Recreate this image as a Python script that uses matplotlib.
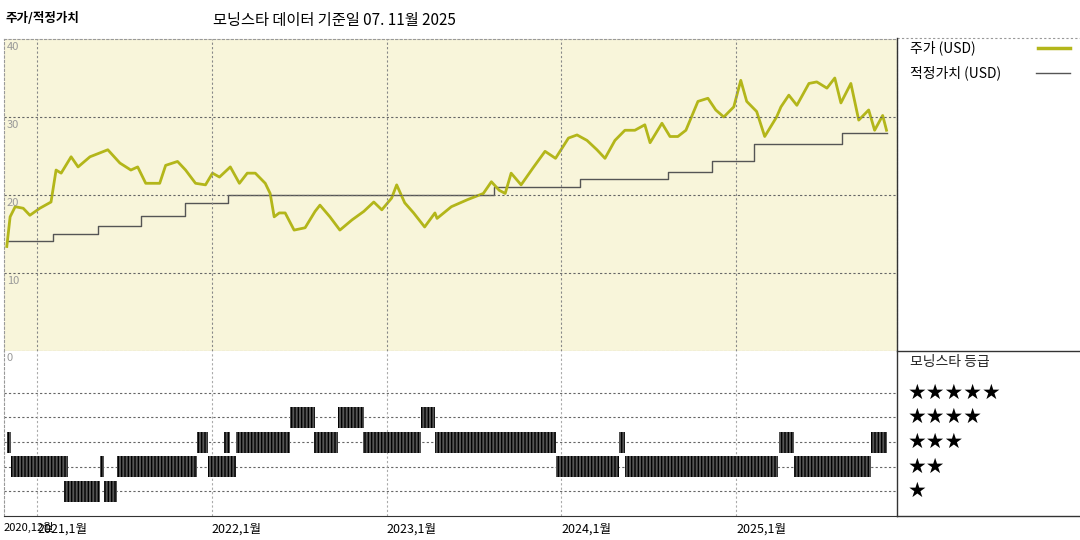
import numpy as np
import matplotlib
matplotlib.use('Agg')
import matplotlib.pyplot as plt
from matplotlib.lines import Line2D

plt.rcParams['font.family'] = ['Noto Sans CJK KR', 'DejaVu Sans']

# price (USD), x = fractional year
price_t = [2020.826, 2020.845, 2020.874, 2020.920, 2020.958, 2021.015, 2021.079, 2021.108, 2021.137,
           2021.194, 2021.234, 2021.302, 2021.359, 2021.404, 2021.473, 2021.536, 2021.575, 2021.621,
           2021.701, 2021.735, 2021.803, 2021.849, 2021.906, 2021.963, 2022.003, 2022.043, 2022.105,
           2022.157, 2022.202, 2022.248, 2022.305, 2022.333, 2022.356, 2022.385, 2022.419, 2022.470,
           2022.533, 2022.590, 2022.618, 2022.675, 2022.732, 2022.801, 2022.869, 2022.926, 2022.972,
           2023.028, 2023.057, 2023.103, 2023.154, 2023.217, 2023.276, 2023.288, 2023.370, 2023.462,
           2023.553, 2023.599, 2023.644, 2023.678, 2023.712, 2023.769, 2023.838, 2023.906, 2023.966,
           2024.040, 2024.089, 2024.146, 2024.203, 2024.249, 2024.306, 2024.363, 2024.420, 2024.477,
           2024.507, 2024.575, 2024.621, 2024.666, 2024.712, 2024.781, 2024.838, 2024.883, 2024.929,
           2024.986, 2025.026, 2025.060, 2025.117, 2025.163, 2025.231, 2025.256, 2025.301, 2025.347,
           2025.416, 2025.461, 2025.519, 2025.564, 2025.599, 2025.656, 2025.701, 2025.758, 2025.792,
           2025.838, 2025.860]
price_v = [13.4, 17.2, 18.5, 18.3, 17.4, 18.3, 19.1, 23.2, 22.8, 24.9, 23.6, 24.9, 25.4, 25.8, 24.1,
           23.2, 23.6, 21.5, 21.5, 23.8, 24.3, 23.2, 21.5, 21.3, 22.8, 22.3, 23.6, 21.5, 22.8, 22.8,
           21.5, 20.2, 17.2, 17.7, 17.7, 15.5, 15.8, 17.9, 18.7, 17.2, 15.5, 16.8, 17.9, 19.1, 18.1,
           19.6, 21.3, 19.0, 17.7, 15.9, 17.7, 17.0, 18.5, 19.4, 20.2, 21.7, 20.6, 20.2, 22.8, 21.3,
           23.5, 25.6, 24.7, 27.3, 27.7, 27.0, 25.8, 24.7, 27.0, 28.3, 28.3, 29.0, 26.7, 29.2, 27.5,
           27.5, 28.3, 32.0, 32.4, 30.9, 30.0, 31.3, 34.7, 32.0, 30.7, 27.5, 30.0, 31.3, 32.8, 31.5,
           34.3, 34.5, 33.7, 35.0, 31.8, 34.3, 29.6, 30.9, 28.3, 30.2, 28.3]

# fair value steps (value holds from each date on)
fair_t = [2020.826, 2021.091, 2021.347, 2021.593, 2021.843, 2022.094, 2023.615, 2024.105,
          2024.612, 2024.863, 2025.102, 2025.604, 2025.860]
fair_v = [14.1, 15.0, 16.0, 17.3, 19.0, 20.0, 21.0, 22.0, 22.9, 24.4, 26.5, 28.0, 28.0]

# Morningstar rating periods: (stars, start, end)
rating_spans = [
    (3, 2020.826, 2020.850), (3, 2021.917, 2021.980), (3, 2022.071, 2022.105),
    (3, 2022.140, 2022.447), (3, 2022.584, 2022.721), (3, 2022.863, 2023.194),
    (3, 2023.279, 2023.969), (3, 2024.331, 2024.364), (3, 2025.243, 2025.329),
    (3, 2025.769, 2025.860),
    (4, 2022.447, 2022.590), (4, 2022.721, 2022.869), (4, 2023.194, 2023.274),
    (2, 2020.850, 2021.177), (2, 2021.359, 2021.382), (2, 2021.456, 2021.912),
    (2, 2021.980, 2022.140), (2, 2023.971, 2024.331), (2, 2024.364, 2025.237),
    (2, 2025.329, 2025.769),
    (1, 2021.154, 2021.359), (1, 2021.382, 2021.456),
]

year_ticks = [2021, 2022, 2023, 2024, 2025]
year_labels = ['2021,1월', '2022,1월', '2023,1월', '2024,1월', '2025,1월']
first_label = '2020,12월'

xmin, xmax = 2020.81, 2025.92
olive = '#b3b61a'

fig = plt.figure(figsize=(10.8, 5.4), dpi=100)
L, R = 4 / 1080, 897 / 1080
ax = fig.add_axes([L, 1 - 351 / 540, R - L, 312 / 540])
axr = fig.add_axes([L, 1 - 516 / 540, R - L, 165 / 540])

# top panel
ax.set_facecolor('#f8f5da')
ax.step(fair_t, fair_v, where='post', color='#555555', lw=1)
ax.plot(price_t, price_v, color=olive, lw=2)
ax.set_xlim(xmin, xmax)
ax.set_ylim(0, 40)
for v in [10, 20, 30]:
    ax.axhline(v, color='#666666', lw=0.8, ls=(0, (2, 2)))
for t in year_ticks:
    ax.axvline(t, color='#888888', lw=0.8, ls=(0, (2, 2)))
for v in [10, 20, 30, 40]:
    ax.text(xmin + 0.015, v - 0.4, str(v), color='#999999', fontsize=8, va='top', ha='left')
ax.set_xticks([])
ax.set_yticks([])
for s in ax.spines.values():
    s.set_color('#999999')
    s.set_linestyle((0, (2, 2)))
    s.set_linewidth(0.8)

# rating panel
for stars, t0, t1 in rating_spans:
    axr.barh(stars, t1 - t0, left=t0, height=0.85, color='#555555', hatch='|||||',
             edgecolor='black', linewidth=0)
axr.set_xlim(xmin, xmax)
axr.set_ylim(0, 6.7)
for v in range(1, 6):
    axr.axhline(v, color='#666666', lw=0.8, ls=(0, (2, 2)), zorder=0)
for t in year_ticks:
    axr.axvline(t, color='#aaaaaa', lw=0.8, ls=(0, (2, 2)), zorder=0)
axr.text(xmin + 0.012, 6.6, '0', color='#999999', fontsize=8, va='top', ha='left')
axr.set_xticks([])
axr.set_yticks([])
for k in ['top', 'right']:
    axr.spines[k].set_visible(False)
axr.spines['left'].set_color('#999999')
axr.spines['left'].set_linestyle((0, (2, 2)))
axr.spines['bottom'].set_color('#333333')

# x labels
axr.text(xmin, -0.25, first_label, fontsize=8, va='top', ha='left')
for t, lab in zip(year_ticks, year_labels):
    axr.text(t, -0.25, lab, fontsize=9, va='top', ha='left')

# frame lines of the side panel
fig.add_artist(Line2D([R, 1], [1 - 38 / 540] * 2, color='#999999', lw=0.8, ls=(0, (2, 2))))
fig.add_artist(Line2D([R, 1], [1 - 351 / 540] * 2, color='#333333', lw=1))
fig.add_artist(Line2D([R, 1], [1 - 516 / 540] * 2, color='#333333', lw=1))
fig.add_artist(Line2D([R, R], [1 - 516 / 540, 1 - 38 / 540], color='#333333', lw=1))

# legend
fig.text(910 / 1080, 1 - 48 / 540, '주가 (USD)', fontsize=10, va='center')
fig.add_artist(Line2D([1038 / 1080, 1070 / 1080], [1 - 48 / 540] * 2, color=olive, lw=2.5))
fig.text(910 / 1080, 1 - 73 / 540, '적정가치 (USD)', fontsize=10, va='center')
fig.add_artist(Line2D([1036 / 1080, 1070 / 1080], [1 - 73 / 540] * 2, color='#555555', lw=1))
fig.text(910 / 1080, 1 - 362 / 540, '모닝스타 등급', fontsize=10, va='center', color='#222222')
for stars in range(1, 6):
    y = 1 - (516 - stars * 24.7) / 540
    fig.text(908 / 1080, y, '★' * stars, fontsize=15, va='center', family=['DejaVu Sans'])

# titles
fig.text(5 / 1080, 1 - 18 / 540, '주가/적정가치', fontsize=9, va='center', fontweight='bold')
fig.text(213 / 1080, 1 - 20 / 540, '모닝스타 데이터 기준일 07. 11월 2025', fontsize=11, va='center')

fig.savefig('out.png', dpi=100)
